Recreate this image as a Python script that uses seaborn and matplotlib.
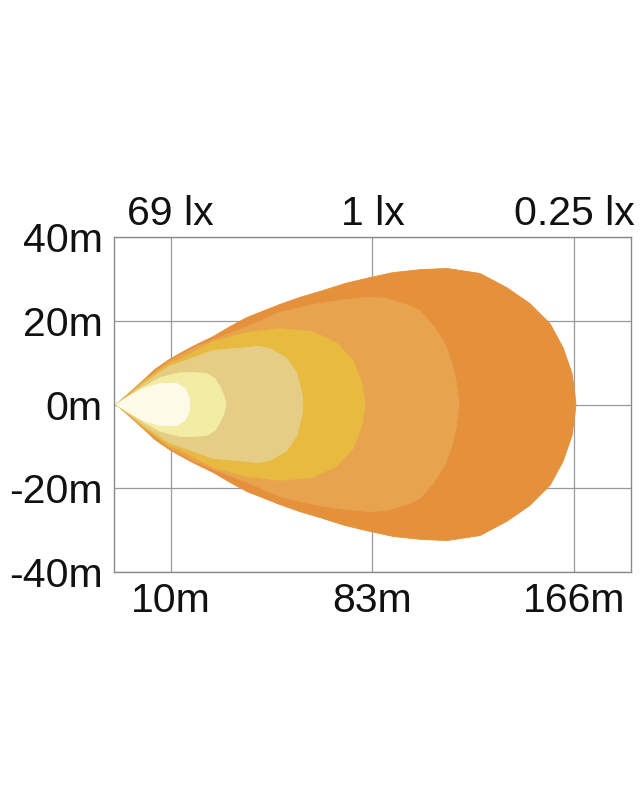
import matplotlib
matplotlib.use("Agg")
import matplotlib.pyplot as plt
import seaborn as sns
import numpy as np

# beam contours, outer -> inner; x = distance units on chart, half = half width (m)
outer_x = [0.8, 6.2, 11.2, 15.9, 21.3, 25.5, 30.6, 38.3, 44.9, 51.5, 64.2, 72.0, 79.7, 89.4, 99.0,
           107.9, 118.4, 128.8, 141.6, 152.0, 160.9, 168.7, 173.7, 177.2, 178.3, 178.7]
outer_half = [0, 2.9, 5.7, 8.4, 10.7, 12.2, 13.9, 16.2, 18.6, 20.8, 23.9, 25.6, 27.0, 28.9, 30.3,
              31.5, 32.2, 32.5, 31.3, 27.9, 24.1, 19.3, 13.6, 7.4, 2.4, 0]

orange_x = [0.8, 6.2, 11.2, 21.3, 30.6, 38.3, 51.5, 64.2, 77.0, 90.1, 99.0, 105.6, 114.5, 118.4,
            123.4, 127.3, 128.8, 131.1, 132.3, 133.1, 133.5]
orange_half = [0, 2.6, 5.5, 10.3, 13.4, 15.5, 18.6, 22.0, 23.9, 25.1, 25.6, 25.3, 23.6, 22.4,
               18.9, 15.3, 13.4, 9.1, 5.7, 1.9, 0]

gold_x = [0.8, 6.2, 11.2, 21.3, 25.5, 38.3, 51.5, 64.2, 77.0, 86.3, 92.5, 95.9, 96.7, 97.1]
gold_half = [0, 2.6, 5.3, 9.8, 10.7, 15.0, 17.2, 18.1, 17.4, 14.6, 10.5, 5.0, 1.9, 0]

khaki_x = [0.8, 6.2, 11.2, 21.3, 25.5, 38.3, 51.5, 55.7, 60.3, 66.9, 70.8, 72.7, 73.1]
khaki_half = [0, 2.4, 4.8, 9.1, 10.0, 12.9, 13.6, 13.9, 13.4, 11.0, 7.4, 2.6, 0]

pale_x = [0.8, 6.2, 11.2, 17.8, 25.5, 31.3, 36.0, 39.1, 41.0, 42.6, 43.3]
pale_half = [0, 2.1, 4.1, 6.4, 7.6, 7.6, 7.4, 6.2, 4.3, 2.1, 0]

cream_x = [0.8, 6.2, 11.2, 17.8, 24.4, 27.5, 29.0, 29.4]
cream_half = [0, 2.1, 3.8, 5.0, 5.0, 3.8, 1.9, 0]

zone_colors = ["#e5903a", "#e8a34e", "#e8bb40", "#e5cd85", "#f3eca4", "#fefae8"]

dist_ticks = [22, 100, 178]
dist_labels = ["10m", "83m", "166m"]
lux_labels = ["69 lx", "1 lx", "0.25 lx"]
width_ticks = [-40, -20, 0, 20, 40]
width_labels = ["-40m", "-20m", "0m", "20m", "40m"]

sns.set_theme(style="whitegrid")
plt.rcParams["font.family"] = ["Liberation Sans", "DejaVu Sans"]

fig = plt.figure(figsize=(6.4, 8), dpi=100)
ax = fig.add_axes([0.178, 0.285, 0.808, 0.41875])

zones = [(outer_x, outer_half), (orange_x, orange_half), (gold_x, gold_half),
         (khaki_x, khaki_half), (pale_x, pale_half), (cream_x, cream_half)]
for (zx, zh), col in zip(zones, zone_colors):
    zx = np.array(zx)
    zh = np.array(zh)
    # upper edge out, lower edge back
    px = np.concatenate([zx, zx[::-1]])
    py = np.concatenate([zh, -zh[::-1]])
    ax.fill(px, py, color=col, lw=0.6, ec=col, joinstyle="round", zorder=2)

ax.set_xlim(0, 200)
ax.set_ylim(-40, 40)
ax.set_xticks(dist_ticks, labels=dist_labels)
ax.set_yticks(width_ticks, labels=width_labels)
ax.grid(True, color="#9a9a9a", lw=0.9)
ax.set_axisbelow(True)
for sp in ax.spines.values():
    sp.set_color("#8a8a8a")
    sp.set_linewidth(1.0)
ax.tick_params(axis="x", length=0, pad=7, labelsize=29.5, labelcolor="#111111")
ax.tick_params(axis="y", length=0, pad=8, labelsize=29.5, labelcolor="#111111")

top = ax.secondary_xaxis("top")
top.set_xticks(dist_ticks, labels=lux_labels)
top.tick_params(length=0, pad=3, labelsize=29.5, labelcolor="#111111")
top.spines["top"].set_visible(False)

fig.savefig("out.png", dpi=100, facecolor="white")
